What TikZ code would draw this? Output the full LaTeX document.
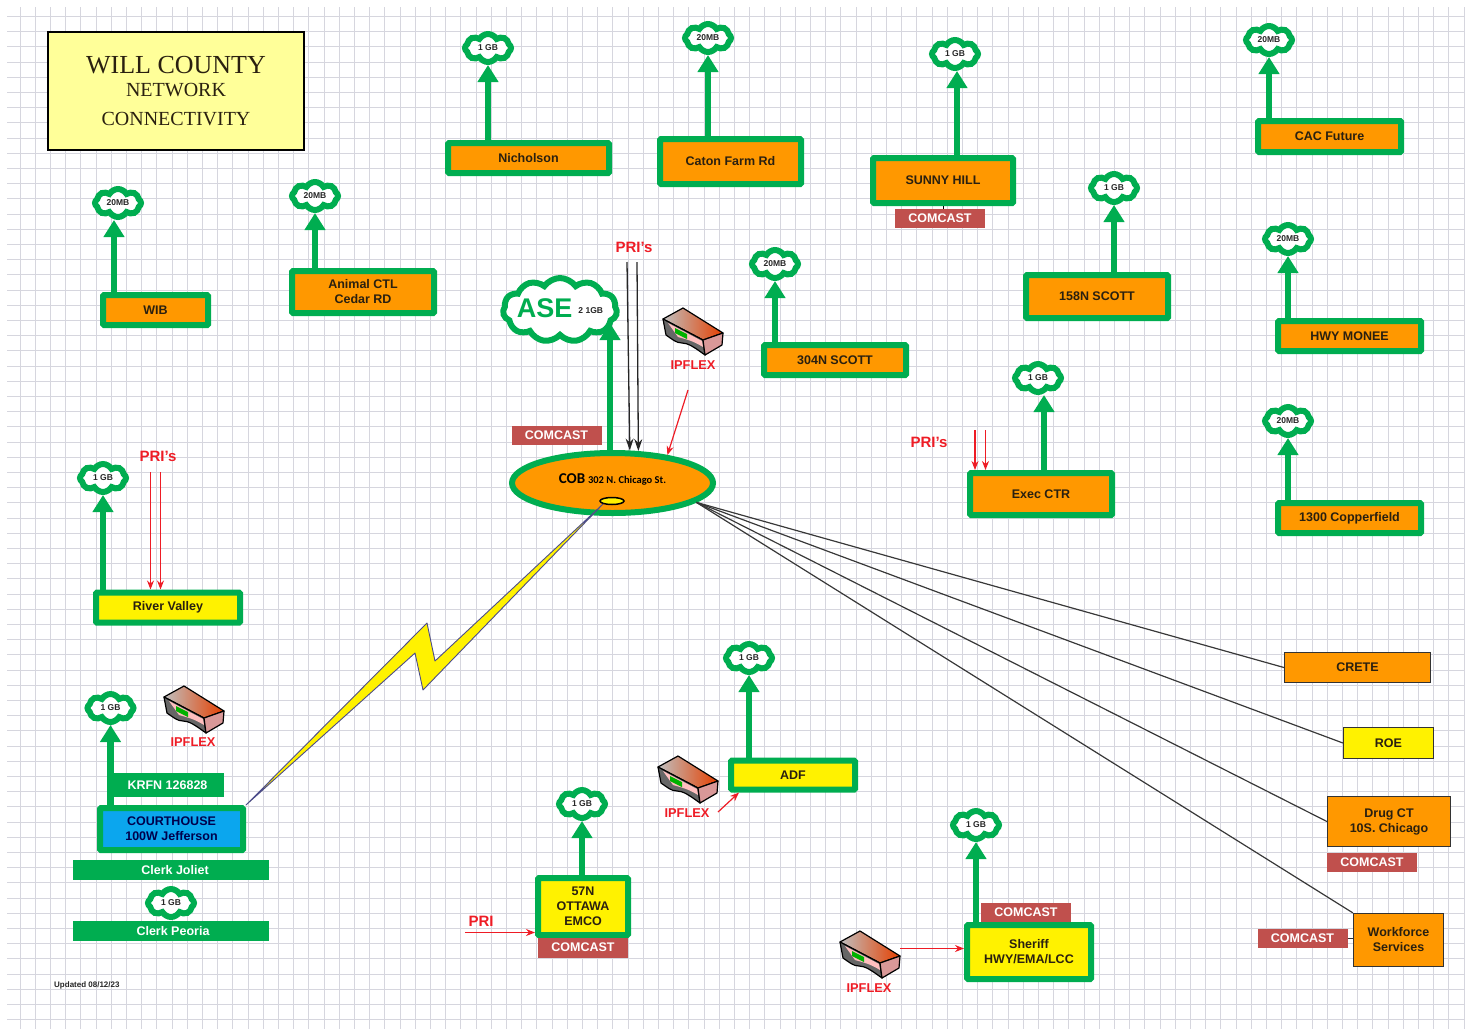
\documentclass[tikz,border=0pt]{standalone}
\usepackage{fontspec}
\setmainfont{Liberation Sans}
\newfontfamily\titlefont{Liberation Serif}
\newfontfamily\cobfont{Carlito}
\usetikzlibrary{arrows.meta,shapes.geometric,shapes.symbols}
\definecolor{linkgreen}{HTML}{00AD50}
\definecolor{siteorange}{HTML}{FF9800}
\definecolor{siteblue}{HTML}{0BA6EE}
\definecolor{titleyellow}{HTML}{FFFF99}
\definecolor{comcastred}{HTML}{C0504D}
\definecolor{labelred}{HTML}{EE1C25}
\definecolor{gridgrey}{HTML}{D6D6DE}
\definecolor{darktext}{HTML}{2A2010}
\tikzset{
  sitebox/.style={draw=linkgreen, line width=6pt, rounded corners=1pt, fill=siteorange, inner sep=0pt, align=center, text=darktext, font=\bfseries\fontsize{12.5}{15}\selectfont},
  yellowbox/.style={sitebox, fill=yellow},
  plainbox/.style={draw=black!80, line width=1.2pt, fill=siteorange, inner sep=0pt, align=center, text=darktext, font=\bfseries\fontsize{12.5}{15}\selectfont},
  comcast/.style={fill=comcastred, text=white, inner sep=0pt, minimum width=90pt, minimum height=19pt, font=\bfseries\fontsize{12.5}{15}\selectfont},
  greenbar/.style={fill=linkgreen, text=white, inner sep=0pt, font=\bfseries\fontsize{12.5}{15}\selectfont},
  speed/.style={cloud, cloud puffs=8, cloud puff arc=120, aspect=1.6, draw=linkgreen, line width=6pt, fill=white, inner sep=0pt, minimum width=46pt, minimum height=28pt, text=black!85, font=\bfseries\fontsize{8.5}{9}\selectfont},
  uplink/.style={draw=linkgreen, line width=6.5pt, -{Stealth[length=17pt,width=20pt,inset=0pt]}},
  redlabel/.style={text=labelred, inner sep=0pt, font=\bfseries\fontsize{12.8}{15}\selectfont},
  bigred/.style={redlabel, font=\bfseries\fontsize{15}{15}\selectfont},
  redfeed/.style={draw=labelred, line width=1.2pt, -{Stealth[length=9pt,width=7pt]}},
  blackfeed/.style={draw=black!85, line width=1.3pt, -{Stealth[length=12pt,width=8pt]}},
  fanline/.style={draw=black!78, line width=1.2pt},
  ipflex/.pic={
    % top face, front and side of the device
    \shade[left color=black!25, right color=red!45!orange!90!black, draw=black, line width=1.2pt, line join=round] (-29,-12) -- (-9,-23) -- (31,2) -- (11,9) -- cycle;
    \fill[black!60, draw=black, line width=1.2pt, line join=round] (-29,-12) -- (11,9) -- (13,24) .. controls (2,16) and (-4,12) .. (-10,12) .. controls (-16,12) and (-20,8) .. (-26,4) -- cycle;
    \fill[red!30!white!85!black, draw=black, line width=1.2pt, line join=round] (11,9) -- (31,2) -- (30,14) -- (13,24) -- cycle;
    \fill[red!25!white] (-24,-8) -- (10,10) -- (11,16) .. controls (0,9) and (-8,8) .. (-14,6) -- cycle;
    \fill[green!70!black] (-17,-3) -- (-5,3) -- (-5,8) -- (-17,2) -- cycle;
  }
}
\begin{document}
\begin{tikzpicture}[x=1pt,y=-1pt]
  \useasboundingbox (0,0) rectangle (1470,1029);
  % Grid paper
  \foreach \k in {0,...,95}
    \draw[gridgrey, line width=0.9pt] (20+15.2*\k,7) -- (20+15.2*\k,1029);
  \foreach \k in {0,...,66}
    \draw[gridgrey, line width=0.9pt] (7,16.5+15.2*\k) -- (1465,16.5+15.2*\k);

  % Title
  \node[draw=black, line width=1.2pt, fill=titleyellow, minimum width=256pt, minimum height=118pt, align=center, inner sep=0pt, text=darktext, font=\titlefont] (title) at (176,91)
    {{\fontsize{26}{26}\selectfont WILL COUNTY}\\[8pt]{\fontsize{20}{20}\selectfont NETWORK}\\[14pt]{\fontsize{20}{20}\selectfont CONNECTIVITY}};

  % Sites on fibre
  \node[sitebox, minimum width=105pt, minimum height=30pt] (wib) at (155.5,310) {WIB};
  \node[sitebox, minimum width=142pt, minimum height=42pt] (animal) at (363,292) {Animal CTL\\Cedar RD};
  \node[sitebox, minimum width=161pt, minimum height=30pt] (nicholson) at (528.5,158) {Nicholson};
  \node[sitebox, minimum width=141pt, minimum height=45pt] (caton) at (730.5,161.5) {Caton Farm Rd};
  \node[sitebox, minimum width=140pt, minimum height=45pt] (sunny) at (943,180.5) {SUNNY HILL};
  \node[sitebox, minimum width=143pt, minimum height=31pt] (cac) at (1329.5,136.5) {CAC Future};
  \node[sitebox, minimum width=142pt, minimum height=43pt] (scott158) at (1097,296.5) {158N SCOTT};
  \node[sitebox, minimum width=143pt, minimum height=30pt] (monee) at (1349.5,336) {HWY MONEE};
  \node[sitebox, minimum width=142pt, minimum height=30pt] (scott304) at (835,360) {304N SCOTT};
  \node[sitebox, minimum width=142pt, minimum height=42pt] (exec) at (1041,494) {Exec CTR};
  \node[sitebox, minimum width=143pt, minimum height=30pt] (copper) at (1349.5,518) {1300 Copperfield};
  \node[yellowbox, minimum width=144pt, minimum height=30pt] (river) at (168,607.5) {River Valley};
  \node[yellowbox, minimum width=124pt, minimum height=29pt] (adf) at (793,775) {ADF};
  \node[yellowbox, minimum width=90pt, minimum height=57pt] (ottawa) at (583,906.5) {57N\\OTTAWA\\EMCO};
  \node[yellowbox, minimum width=124pt, minimum height=54pt] (sheriff) at (1029,952) {Sheriff\\HWY/EMA/LCC};
  \node[sitebox, fill=siteblue, text=blue!30!black, minimum width=143pt, minimum height=42pt] (court) at (171.5,829) {COURTHOUSE\\100W Jefferson};

  % Sites off the fan
  \node[plainbox, minimum width=146pt, minimum height=30pt] (crete) at (1357.5,667.5) {CRETE};
  \node[plainbox, fill=yellow, minimum width=90pt, minimum height=31pt] (roe) at (1388.5,743) {ROE};
  \node[plainbox, minimum width=123pt, minimum height=50pt] (drug) at (1389,821.5) {Drug CT\\10S. Chicago};
  \node[plainbox, minimum width=90pt, minimum height=53pt] (workforce) at (1398.5,940) {Workforce\\Services};

  % COB
  \node[ellipse, draw=linkgreen, line width=6pt, fill=siteorange, minimum width=201pt, minimum height=60pt, inner sep=0pt, text=black] (cob) at (612.5,483)
    {\raisebox{9pt}{\cobfont\bfseries\fontsize{15}{15}\selectfont COB} \raisebox{9pt}{\cobfont\bfseries\fontsize{10.5}{10}\selectfont 302 N. Chicago St.}};
  \node[ellipse, draw=black, line width=1.5pt, fill=yellow, minimum width=24pt, minimum height=7pt, inner sep=0pt] (tap) at (612,501) {};

  % Bars and labels
  \node[greenbar, minimum width=113pt, minimum height=24pt] (krfn) at (167.5,785) {KRFN 126828};
  \node[greenbar, minimum width=196pt, minimum height=20pt] (joliet) at (171,870) {\hspace*{8pt}Clerk Joliet};
  \node[greenbar, minimum width=196pt, minimum height=20pt] (peoria) at (171,931) {\hspace*{4pt}Clerk Peoria};
  \node[comcast] (comcastcob) at (556.5,435) {COMCAST};
  \node[comcast] (comcastsunny) at (940,218.5) {COMCAST};
  \node[comcast] (comcastdrug) at (1372,862.5) {COMCAST};
  \node[comcast] (comcastwork) at (1302.5,938.5) {COMCAST};
  \node[comcast, minimum height=20pt] (comcastottawa) at (583,947.5) {COMCAST};
  \node[comcast] (comcastsheriff) at (1026,912) {COMCAST};

  % Clouds
  \node[speed] (cwib) at (118,203) {20MB};
  \node[speed] (canimal) at (315,196) {20MB};
  \node[speed] (cnicholson) at (488,48) {1 GB};
  \node[speed] (ccaton) at (708,38) {20MB};
  \node[speed] (csunny) at (955,54) {1 GB};
  \node[speed] (ccac) at (1269,40) {20MB};
  \node[speed] (cscottb) at (1114,188) {1 GB};
  \node[speed] (cmonee) at (1288,239) {20MB};
  \node[speed] (cscotta) at (775,264) {20MB};
  \node[speed] (cexec) at (1038,378) {1 GB};
  \node[speed] (ccopper) at (1288,421) {20MB};
  \node[speed] (criver) at (103,478) {1 GB};
  \node[speed] (ccourt) at (110.5,708) {1 GB};
  \node[speed] (cpeoria) at (171,903) {1 GB};
  \node[speed] (cadf) at (749,658) {1 GB};
  \node[speed] (cottawa) at (582,804) {1 GB};
  \node[speed] (csheriff) at (976,825) {1 GB};
  \node[speed, cloud puffs=11, cloud puff arc=110, minimum width=114pt, minimum height=64pt, aspect=1.8] (ase) at (560,310)
    {\makebox[30pt]{\smash{\raisebox{-7pt}{\fontsize{27}{27}\selectfont\textcolor{linkgreen}{ASE}}\hspace{6pt}\raisebox{-3pt}{2 1GB}}}};

  % Uplinks
  \draw[uplink] ([xshift=-4pt]cwib.south |- wib.north) -- ([xshift=-4pt]cwib.south);
  \draw[uplink] (canimal.south |- animal.north) -- (canimal.south);
  \draw[uplink] (cnicholson.south |- nicholson.north) -- (cnicholson.south);
  \draw[uplink] (ccaton.south |- caton.north) -- (ccaton.south);
  \draw[uplink] ([xshift=2pt]csunny.south |- sunny.north) -- ([xshift=2pt]csunny.south);
  \draw[uplink] (ccac.south |- cac.north) -- (ccac.south);
  \draw[uplink] (cscottb.south |- scott158.north) -- (cscottb.south);
  \draw[uplink] (cmonee.south |- monee.north) -- (cmonee.south);
  \draw[uplink] (cscotta.south |- scott304.north) -- (cscotta.south);
  \draw[uplink] ([xshift=6pt]cexec.south |- exec.north) -- ([xshift=6pt]cexec.south);
  \draw[uplink] (ccopper.south |- copper.north) -- (ccopper.south);
  \draw[uplink] (criver.south |- river.north) -- (criver.south);
  \draw[uplink] (ccourt.south |- court.north) -- (ccourt.south);
  \draw[uplink] (cadf.south |- adf.north) -- (cadf.south);
  \draw[uplink] (cottawa.south |- ottawa.north) -- (cottawa.south);
  \draw[uplink] (csheriff.south |- sheriff.north) -- (csheriff.south);
  \coordinate (asein) at (610,323);
  \draw[uplink] ([xshift=-2.5pt]cob.north) -- (asein);

  % Fan from COB
  \draw[fanline] (cob.-13.5) -- (crete.west);
  \draw[fanline] (cob.-13.5) -- (roe.west);
  \draw[fanline] (cob.-13.5) -- (drug.west);
  \draw[fanline] (cob.-13.5) -- (workforce.north west);

  % Radio link
  \draw[draw=blue!35!black!70, line width=0.9pt, fill=yellow, line join=round] (court.north east) -- (427,623) -- (435,661) -- (tap.south west) -- (423,690) -- (415,653) -- cycle;

  % Short links
  \draw[black, line width=0.8pt] (sunny.south) -- (sunny.south |- comcastsunny.north);
  \draw[black!80, line width=0.8pt] (comcastwork.east) -- (workforce.west |- comcastwork.east);

  % PRI feeds
  \node[bigred] (pricob) at (634,247) {PRI's};
  \coordinate (cobfeeda) at (627,262);
  \coordinate (cobfeedb) at (637,262);
  \draw[blackfeed] (cobfeeda) -- (cob.62);
  \draw[blackfeed] (cobfeedb) -- (cob.51);
  \node[bigred] (pririver) at (158,456) {PRI's};
  \coordinate (riverfeeda) at (150.5,472);
  \coordinate (riverfeedb) at (160.5,472);
  \draw[redfeed] (riverfeeda) -- (riverfeeda |- river.north);
  \draw[redfeed] (riverfeedb) -- (riverfeedb |- river.north);
  \node[bigred] (priexec) at (929,442) {PRI's};
  \coordinate (execfeeda) at (975,430);
  \coordinate (execfeedb) at (985.5,430);
  \draw[redfeed] (execfeeda) -- (execfeeda |- exec.north);
  \draw[redfeed] (execfeedb) -- (execfeedb |- exec.north);
  \node[bigred] (priottawa) at (481,921) {PRI};
  \coordinate (ottawafeed) at (465,932.5);
  \draw[redfeed] (ottawafeed) -- (ottawa.west |- ottawafeed);

  % IPFLEX devices
  \pic at (692,331) {ipflex};
  \node[redlabel] (flexcob) at (693,365.5) {IPFLEX};
  \coordinate (flexcobfeed) at (688,390);
  \draw[redfeed] (flexcobfeed) -- (cob.27);
  \pic at (193,709) {ipflex};
  \node[redlabel] (flexcourt) at (193,742.5) {IPFLEX};
  \pic at (687,779) {ipflex};
  \node[redlabel] (flexadf) at (687,813) {IPFLEX};
  \coordinate (flexadffeed) at (718,812);
  \draw[redfeed] (flexadffeed) -- ([xshift=11pt]adf.south west);
  \pic at (869,954) {ipflex};
  \node[redlabel] (flexsheriff) at (869,988) {IPFLEX};
  \coordinate (flexsherifffeed) at (900,948.5);
  \draw[redfeed] (flexsherifffeed) -- (sheriff.west |- flexsherifffeed);

  % Update note
  \node[anchor=west, inner sep=0pt, text=black!85, font=\bfseries\fontsize{8}{8}\selectfont] (updated) at (54,985.5) {Updated 08/12/23};
\end{tikzpicture}
\end{document}
